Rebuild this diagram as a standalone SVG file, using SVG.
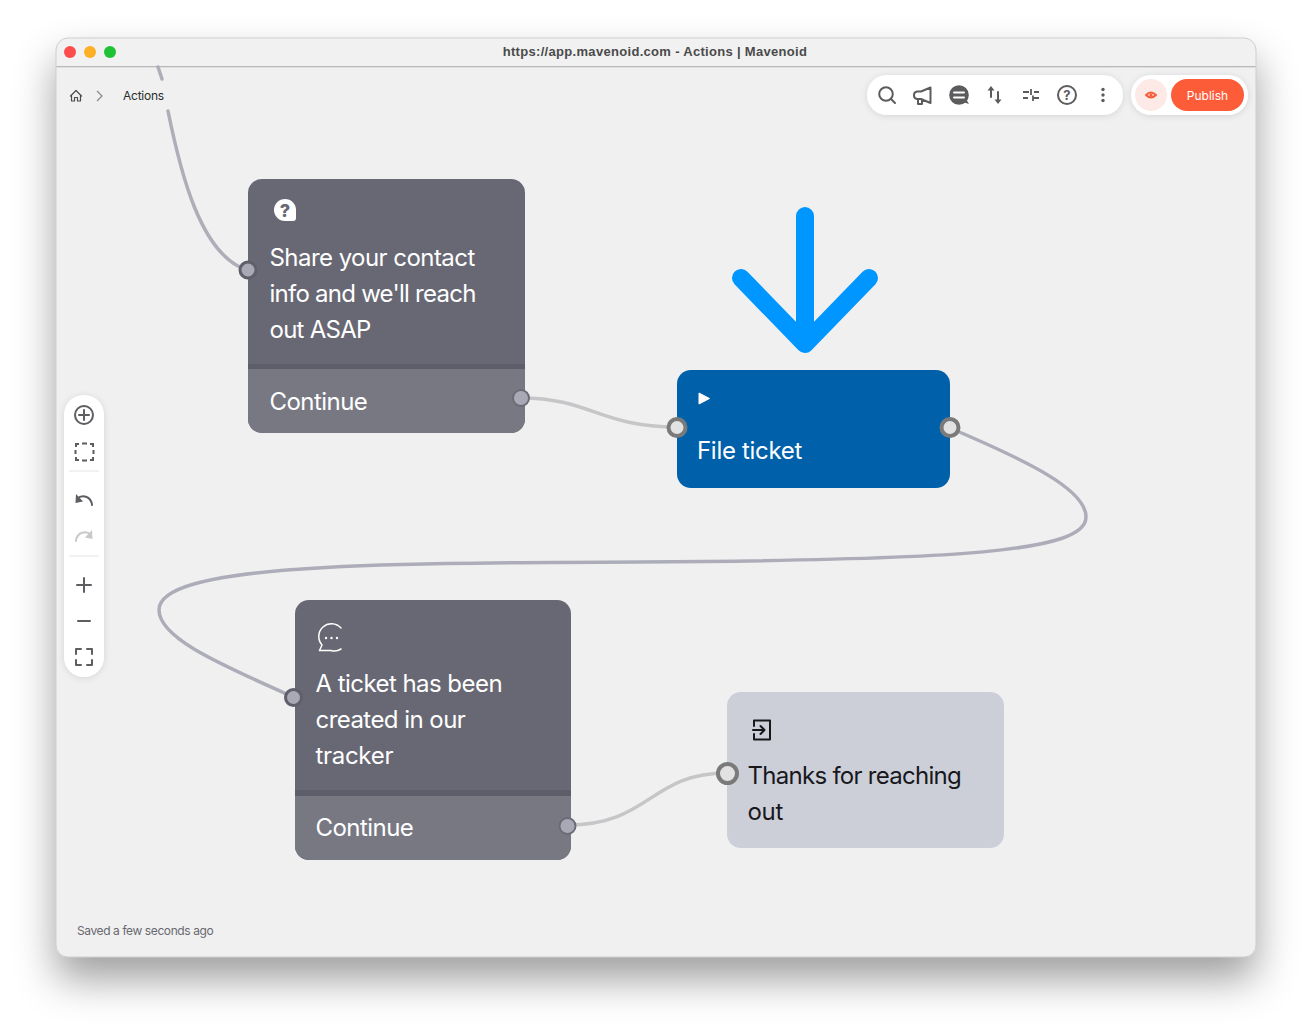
<svg xmlns="http://www.w3.org/2000/svg" width="1312" height="1031" viewBox="0 0 1312 1031">
<style>
text{font-family:Inter,"Liberation Sans",sans-serif}
.nt{font-size:24px;fill:#fff;letter-spacing:-.55px}
.dk{font-size:24px;fill:#17171c;letter-spacing:-.72px}
.wire{fill:none;stroke-linecap:round}
.ic{fill:none;stroke:#5c5c5f;stroke-width:2;stroke-linecap:round;stroke-linejoin:round}
.tb{fill:none;stroke:#5e5e62;stroke-width:2;stroke-linecap:round;stroke-linejoin:round}
.pill{fill:#fff;filter:url(#ps)}
.portA{fill:#a9a9b5;stroke:#5f5f6b;stroke-width:3}
.portC{fill:#a9a9b5;stroke:#6b6b77;stroke-width:2}
.portB{fill:#e2e2e2;stroke:#7a7a7a;stroke-width:4}
</style>
<defs>
<filter id="ws" x="-10%" y="-10%" width="120%" height="125%"><feDropShadow dx="0" dy="22" stdDeviation="20" flood-color="#000" flood-opacity=".38"/></filter>
<filter id="ps" x="-20%" y="-20%" width="140%" height="140%"><feDropShadow dx="0" dy="1" stdDeviation="3" flood-color="#000" flood-opacity=".12"/></filter>
<clipPath id="w"><rect x="56" y="38" width="1200" height="919" rx="12"/></clipPath>
</defs>
<rect width="1312" height="1031" fill="#fff"/>
<g id="window">
<rect x="56" y="38" width="1200" height="919" rx="12" fill="#f0f0f1" filter="url(#ws)"/>
<g clip-path="url(#w)">
<rect x="56" y="38" width="1200" height="28" fill="#f1f1f1"/>
<rect x="56" y="66" width="1200" height="1.3" fill="#b8b8b8"/>
</g>
<rect x="56" y="38" width="1200" height="919" rx="12" fill="none" stroke="#cfcfcf" stroke-width="1"/>
<circle cx="70" cy="52" r="6" fill="#fc4d4c"/><circle cx="90" cy="52" r="6" fill="#fdb025"/><circle cx="110" cy="52" r="6" fill="#1fc135"/>
<text x="655" y="56" text-anchor="middle" font-size="13" fill="#4a4a4a" style="font-family:'Liberation Sans',sans-serif;font-weight:700;letter-spacing:.31px">https://app.mavenoid.com - Actions | Mavenoid</text>
</g>
<g id="connectors">
<path class="wire" d="M158 67L162 79M168 111C180 170 200 255 247 270" stroke="#aeaeb8" stroke-width="3.500"/>
<path class="wire" d="M521 398C590 398 600 427 677 427" stroke="#c6c6c8" stroke-width="3.500"/>
<path class="wire" d="M950 428C1030 462 1086 490 1086 517C1086 552 960 560 640 562C360 563 159 565 159 610C159 640 230 668 293 697" stroke="#adadb9" stroke-width="3.500"/>
<path class="wire" d="M568 825C650 825 650 773 727 773" stroke="#c6c6c8" stroke-width="3.500"/>
</g>
<g id="breadcrumb">
<path d="M70.500 96L76 90.500L81.500 96M71.500 95V101H74.500V97.500H77.500V101H80.500V95" fill="none" stroke="#4c4c4c" stroke-width="1.200" stroke-linejoin="round" stroke-linecap="round"/>
<path d="M97 91L102 96L97 101" fill="none" stroke="#8a8a8a" stroke-width="1.300"/>
<text x="123" y="100" font-size="12" fill="#2c2c2c" letter-spacing="-.25">Actions</text>
</g>
<g id="node-share">
<rect x="248" y="179" width="277" height="254" rx="14" fill="#686874"/>
<path d="M248 369H525V419a14 14 0 0 1-14 14H262a14 14 0 0 1-14-14Z" fill="#787883"/>
<rect x="248" y="364" width="277" height="5" fill="#5e5e6a"/>
<path d="M285 199a11 11 0 0 0 0 22h8a3 3 0 0 0 3-3v-8a11 11 0 0 0-11-11Z" fill="#fff"/>
<text x="285" y="217" text-anchor="middle" font-size="18" font-weight="800" fill="#686874">?</text>
<text class="nt" x="269.500" y="265.500">Share your contact</text>
<text class="nt" x="269.500" y="301.500" style="letter-spacing:-.75px">info and we'll reach</text>
<text class="nt" x="269.500" y="337.500" style="letter-spacing:-.75px">out ASAP</text>
<text class="nt" x="269.500" y="409.500">Continue</text>
<circle class="portA" cx="248" cy="270" r="8"/>
<circle class="portC" cx="521" cy="398" r="8"/>
</g>
<g id="node-file">
<rect x="677" y="370" width="273" height="118" rx="14" fill="#0061aa"/>
<path d="M699 393L709.500 398.500L699 404Z" fill="#fff" stroke="#fff" stroke-linejoin="round"/>
<text class="nt" x="697" y="458.500" style="letter-spacing:-.3px">File ticket</text>
<circle class="portB" cx="677" cy="427.500" r="8.500"/>
<circle class="portB" cx="950" cy="427.500" r="8.500"/>
</g>
<g id="node-ticket">
<rect x="295" y="600" width="276" height="260" rx="14" fill="#686874"/>
<path d="M295 796H571V846a14 14 0 0 1-14 14H309a14 14 0 0 1-14-14Z" fill="#787883"/>
<rect x="295" y="790" width="276" height="6" fill="#5e5e6a"/>
<path d="M341 628A12 12 0 0 0 322 645L319.500 650.500H331A12 12 0 0 0 341 649" fill="none" stroke="#fff" stroke-width="1.500" stroke-linejoin="round" stroke-linecap="round"/>
<circle cx="326" cy="638" r="1.200" fill="#fff"/><circle cx="331.500" cy="638" r="1.200" fill="#fff"/><circle cx="337" cy="638" r="1.200" fill="#fff"/>
<text class="nt" x="315.500" y="691.500">A ticket has been</text>
<text class="nt" x="315.500" y="727.500">created in our</text>
<text class="nt" x="315.500" y="763.500" style="letter-spacing:-.3px">tracker</text>
<text class="nt" x="315.500" y="835.500">Continue</text>
<circle class="portA" cx="293.500" cy="697.500" r="8"/>
<circle class="portC" cx="567.500" cy="826" r="8"/>
</g>
<g id="node-thanks">
<rect x="727" y="692" width="277" height="156" rx="14" fill="#cccfd8"/>
<path d="M754 726V720.500H770V739.500H754V734M753 730H764M760.500 726L764.500 730L760.500 734" fill="none" stroke="#17171c" stroke-width="2" stroke-linejoin="round" stroke-linecap="round"/>
<text class="dk" x="747.500" y="783.500">Thanks for reaching</text>
<text class="dk" x="747.500" y="819.500" style="letter-spacing:-.3px">out</text>
<circle cx="727.500" cy="773.500" r="9.500" fill="#e2e2e2" stroke="#7a7a7a" stroke-width="4"/>
</g>
<g id="arrow">
<path d="M805 216V344M741 278L805 344L869 278" fill="none" stroke="#0096ff" stroke-width="18" stroke-linecap="round" stroke-linejoin="round"/>
</g>
<g id="toolbar-top">
<rect class="pill" x="867" y="75" width="256" height="40" rx="20"/>
<circle class="ic" cx="886" cy="94" r="6.800"/><path class="ic" d="M891 99L895 103"/>
<path class="ic" d="M930.500 87.500V103L921 99H917A3.500 3.500 0 0 1 914 95.500V94.500A3.500 3.500 0 0 1 917 91.500H921ZM918 99.500V104H922V100"/>
<circle cx="959" cy="95" r="9.800" fill="#5c5c5f"/><path d="M963 102L969 104L966 99Z" fill="#5c5c5f"/>
<path d="M954 92.500H964M954 97.500H964" stroke="#fff" stroke-width="2" stroke-linecap="round"/>
<path class="ic" d="M991 97V88M998 92V102" stroke-width="1.800"/>
<path d="M987.500 90.500L991 86L994.500 90.500ZM994.500 99.500L998 104L1001.500 99.500Z" fill="#5c5c5f"/>
<path d="M1023 92H1029M1034 92H1039M1031 89V95M1023 98H1028M1033 98H1039M1033 95.500V101" fill="none" stroke="#5c5c5f" stroke-width="1.800"/>
<circle class="ic" cx="1067" cy="95" r="9"/><text x="1067" y="100" text-anchor="middle" font-size="13" font-weight="700" fill="#5c5c5f">?</text>
<circle cx="1103" cy="89.500" r="1.700" fill="#5c5c5f"/><circle cx="1103" cy="95" r="1.700" fill="#5c5c5f"/><circle cx="1103" cy="100.500" r="1.700" fill="#5c5c5f"/>
</g>
<g id="toolbar-publish">
<rect class="pill" x="1131" y="75" width="117" height="40" rx="20"/>
<circle cx="1151" cy="95" r="16" fill="#fdeae6"/>
<path d="M1146 95Q1151 90 1156 95Q1151 100 1146 95Z" fill="none" stroke="#fa5c39" stroke-width="2" stroke-linejoin="round"/><circle cx="1151" cy="95" r="1.600" fill="#fa5c39"/>
<rect x="1171" y="79" width="73" height="32" rx="16" fill="#fd5c39"/>
<text x="1207.500" y="100" text-anchor="middle" font-size="12" fill="#fff">Publish</text>
</g>
<g id="toolbar-left">
<rect class="pill" x="64" y="395" width="40" height="282" rx="20"/>
<circle class="tb" cx="84" cy="415" r="9"/><path class="tb" d="M84 410V420M79 415H89"/>
<path d="M76 447V444H79M82 443.500H87M90 444H93V447M93.500 450V454M93 457V460H90M87 460.500H82M79 460H76V457M75.500 454V450" fill="none" stroke="#5e5e62" stroke-width="2"/>
<path d="M69 471H99M69 556H99" stroke="#e4e4e4"/>
<path class="tb" d="M92 505C91 496 82 494 77 499"/><path d="M76 494L75.500 503L83 501.500Z" fill="#5e5e62"/>
<path d="M76 541C77 532 86 530 91 535" fill="none" stroke="#c9c9c9" stroke-width="2" stroke-linecap="round"/><path d="M92 530L92.500 539L85 537.500Z" fill="#c9c9c9"/>
<path class="tb" d="M84 578V592M77 585H91M78 621H90"/>
<path class="tb" d="M76 654V649H81M87 649H92V654M92 660V665H87M81 665H76V660"/>
</g>
<text id="status" x="77" y="935" font-size="12" fill="#68686f" letter-spacing="-.4">Saved a few seconds ago</text>
</svg>
